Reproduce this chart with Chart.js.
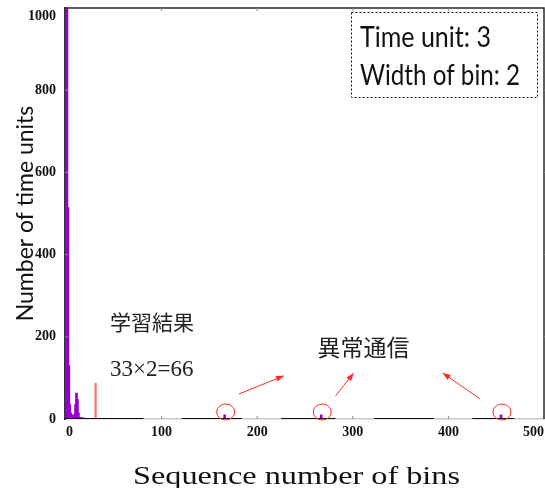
<!DOCTYPE html>
<html>
<head>
<meta charset="utf-8">
<script src="https://cdn.jsdelivr.net/npm/chart.js@4.4.1/dist/chart.umd.min.js"></script>
<style>
html,body{margin:0;padding:0;background:#fff;}
#wrap{width:545px;height:488px;}
</style>
</head>
<body>
<div id="wrap"><canvas id="c" width="545" height="488"></canvas></div>
<script>
// histogram of the learned traffic (bins 0..19)
var bins   = [0, 1, 2, 3, 4, 5, 6, 7, 8, 9, 10, 11, 12, 13, 14, 15, 16, 17, 18, 19];
var counts = [1050, 1050, 515, 130, 35, 15, 10, 8, 8, 12, 35, 63, 48, 15, 4, 3, 3, 3, 2, 2];
// anomalous communication bins
var anomalyBins   = [166, 267, 455];
var anomalyCounts = [10, 10, 10];
// learned threshold (33x2=66)
var thresholdBins   = [31];
var thresholdCounts = [87];
// runs of empty bins drawn as a black zero line
var zeroRuns = [[-1, 81], [121, 184], [225, 282], [322, 385], [425, 469]];
var xTicks = [0, 100, 200, 300, 400, 500];
var yTicks = [0, 200, 400, 600, 800, 1000];
var legendLines = ['Time unit: 3', 'Width of bin: 2'];
var xTitle = 'Sequence number of bins';

var purple = '#9400d3';
var red = '#ff2a2a';

(function(){
	var histData = bins.map(function(b, i){ return {x: b, y: counts[i]}; });
	anomalyBins.forEach(function(b, i){ histData.push({x: b, y: anomalyCounts[i]}); });
	var thrData = thresholdBins.map(function(b, i){ return {x: b, y: thresholdCounts[i]}; });
	var zeroData = [];
	zeroRuns.forEach(function(r){
		zeroData.push({x: r[0], y: 0});
		zeroData.push({x: r[1], y: 0});
		zeroData.push({x: r[1] + 0.5, y: null});
	});

	function fitText(ctx, text, x, y, size, family, width){
		ctx.font = size + 'px ' + family;
		var w = ctx.measureText(text).width;
		ctx.save();
		ctx.translate(x, y);
		ctx.scale(width / w, 1);
		ctx.fillText(text, 0, 0);
		ctx.restore();
	}

	function arrow(ctx, x1, y1, x2, y2){
		var a = Math.atan2(y2 - y1, x2 - x1);
		ctx.beginPath(); ctx.moveTo(x1, y1); ctx.lineTo(x2, y2); ctx.stroke();
		ctx.beginPath();
		ctx.moveTo(x2, y2);
		ctx.lineTo(x2 - 8 * Math.cos(a) + 3 * Math.sin(a), y2 - 8 * Math.sin(a) - 3 * Math.cos(a));
		ctx.lineTo(x2 - 8 * Math.cos(a) - 3 * Math.sin(a), y2 - 8 * Math.sin(a) + 3 * Math.cos(a));
		ctx.closePath(); ctx.fill();
	}

	var decor = {
		id: 'decor',
		afterDraw: function(chart){
			var ctx = chart.ctx, a = chart.chartArea;
			var sx = chart.scales.x, sy = chart.scales.y;
			var X = function(v){ return sx.getPixelForValue(v); };
			var Y = function(v){ return sy.getPixelForValue(v); };
			ctx.save();
			// frame top / right
			ctx.strokeStyle = '#2a2a2a'; ctx.lineWidth = 1.5;
			ctx.beginPath();
			ctx.moveTo(a.left, a.top); ctx.lineTo(a.right, a.top); ctx.lineTo(a.right, a.bottom);
			ctx.stroke();
			// small inner ticks
			ctx.strokeStyle = '#888'; ctx.lineWidth = 1;
			ctx.beginPath();
			xTicks.slice(1, -1).forEach(function(v){
				ctx.moveTo(X(v), a.bottom); ctx.lineTo(X(v), a.bottom - 3);
				ctx.moveTo(X(v), a.top); ctx.lineTo(X(v), a.top + 3);
			});
			yTicks.slice(1, -1).forEach(function(v){
				ctx.moveTo(a.left, Y(v)); ctx.lineTo(a.left + 3, Y(v));
				ctx.moveTo(a.right, Y(v)); ctx.lineTo(a.right + 3, Y(v));
			});
			ctx.stroke();

			// x axis title (stretched serif)
			ctx.fillStyle = '#111'; ctx.textBaseline = 'alphabetic'; ctx.textAlign = 'left';
			fitText(ctx, xTitle, 133, 484, 26, '"Liberation Serif", serif', 327);

			// legend box
			ctx.strokeStyle = '#111'; ctx.lineWidth = 1; ctx.setLineDash([2, 2]);
			ctx.strokeRect(351.5, 12.5, 186, 85);
			ctx.setLineDash([]);
			fitText(ctx, legendLines[0], 360, 47, 28, 'Lato', 131);
			fitText(ctx, legendLines[1], 360, 85, 28, 'Lato', 160);

			// annotations
			ctx.fillStyle = '#222'; ctx.textBaseline = 'middle';
			ctx.font = '21px "Noto Sans CJK JP"';
			ctx.fillText('学習結果', X(46), Y(236));
			ctx.font = '23px "Liberation Serif"';
			ctx.fillText('33×2=66', X(46), Y(119));
			ctx.font = '23px "Noto Sans CJK JP"';
			ctx.fillText('異常通信', X(263), Y(175));

			ctx.strokeStyle = red; ctx.fillStyle = red; ctx.lineWidth = 1;
			arrow(ctx, X(181), Y(61), X(228), Y(105));
			arrow(ctx, X(282), Y(56), X(301), Y(112));
			arrow(ctx, X(433), Y(49), X(394), Y(112));
			anomalyBins.forEach(function(b){
				ctx.beginPath();
				ctx.ellipse(X(b) + 1, Y(17), 9, 8, 0, 0, Math.PI * 2);
				ctx.stroke();
			});
			ctx.restore();
		}
	};

	var serifBold = {family: '"Liberation Serif", serif', size: 14, weight: 'bold'};
	var plain = function(v){ return String(v); };
	// top label sits half a line below the frame, as in the original
	var yLabel = function(v){ return v === yTicks[yTicks.length - 1] ? ['', String(v)] : String(v); };

	new Chart(document.getElementById('c'), {
		type: 'bar',
		data: {
			datasets: [
				{type: 'line', data: zeroData, borderColor: '#111', borderWidth: 2, pointRadius: 0, spanGaps: false, order: 0},
				{data: histData, backgroundColor: purple, barThickness: 2, grouped: false, order: 1},
				{data: thrData, backgroundColor: '#ff6f6f', barThickness: 1.5, grouped: false, order: 2}
			]
		},
		options: {
			responsive: false,
			animation: false,
			devicePixelRatio: 1,
			layout: {padding: {top: 8, right: 1, left: 0, bottom: 0}},
			plugins: {legend: {display: false}, tooltip: {enabled: false}},
			scales: {
				x: {
					type: 'linear', min: -1, max: 500, offset: false,
					afterBuildTicks: function(s){ s.ticks = xTicks.map(function(v){ return {value: v}; }); },
					afterFit: function(s){ s.height = 69; s.paddingLeft = 0; s.paddingRight = 0; },
					grid: {display: false, drawTicks: false, offset: false},
					border: {display: true, color: '#c8c8c8', width: 1.5},
					ticks: {font: serifBold, color: '#111', padding: 5, align: 'inner', maxRotation: 0, callback: plain},
					title: {display: false}
				},
				y: {
					min: 0, max: 1000,
					afterBuildTicks: function(s){ s.ticks = yTicks.map(function(v){ return {value: v}; }); },
					afterFit: function(s){ s.width = 65; s.paddingTop = 0; s.paddingBottom = 0; },
					grid: {display: false, drawTicks: false},
					border: {display: true, color: '#333', width: 2},
					ticks: {font: serifBold, color: '#111', padding: 9, callback: yLabel},
					title: {display: true, text: 'Number of time units', color: '#111',
						font: {family: 'Lato', size: 23}, padding: {top: 12, bottom: 0}}
				}
			}
		},
		plugins: [decor]
	});
})();
</script>
</body>
</html>
